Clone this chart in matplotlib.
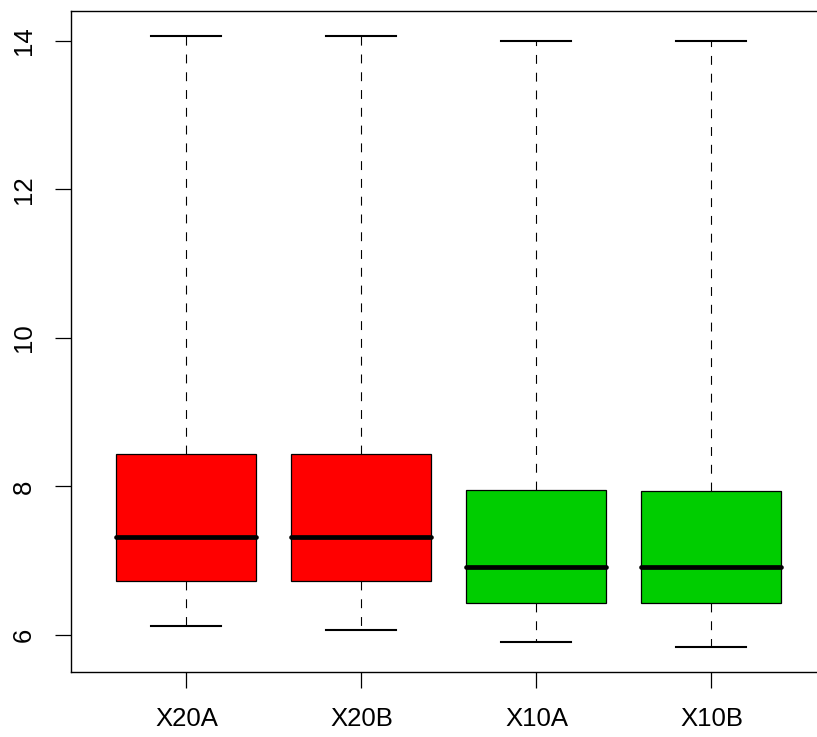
import matplotlib
matplotlib.use('Agg')
import matplotlib.pyplot as plt

plt.rcParams['font.family'] = ['Liberation Sans', 'DejaVu Sans']

# box statistics
labels = ['X20A', 'X20B', 'X10A', 'X10B']
whislo = [6.12, 6.06, 5.90, 5.84]
q1 = [6.73, 6.73, 6.43, 6.43]
med = [7.32, 7.32, 6.92, 6.92]
q3 = [8.44, 8.44, 7.95, 7.94]
whishi = [14.07, 14.07, 14.00, 14.00]
colors = ['#FF0000', '#FF0000', '#00CD00', '#00CD00']

stats = []
for i in range(len(labels)):
    stats.append(dict(label=labels[i], whislo=whislo[i], q1=q1[i], med=med[i],
                      q3=q3[i], whishi=whishi[i], fliers=[]))

fig = plt.figure(figsize=(8.17, 7.37), dpi=100)
# plot region runs past the right edge of the picture
ax = fig.add_axes([71 / 817, 1 - 671.5 / 737, (827 - 71) / 817, (671.5 - 11) / 737])

bp = ax.bxp(stats, positions=[1, 2, 3, 4], widths=0.8, patch_artist=True,
            showfliers=False,
            boxprops=dict(linewidth=0.9, edgecolor='black'),
            medianprops=dict(color='black', linewidth=3.4, solid_capstyle='round'),
            whiskerprops=dict(color='black', linewidth=0.8, linestyle=(0, (8, 8))),
            capprops=dict(color='black', linewidth=1.5),
            capwidths=0.4)
for patch, c in zip(bp['boxes'], colors):
    patch.set_facecolor(c)

ax.set_xlim(0.34, 4.66)
ax.set_ylim(5.508, 14.40)
ax.set_yticks([6, 8, 10, 12, 14])
ax.set_yticklabels(['6', '8', '10', '12', '14'], rotation=90, va='center')

for s in ax.spines.values():
    s.set_linewidth(1.0)
ax.spines['right'].set_visible(False)
ax.tick_params(axis='both', length=11.5, width=0.9, labelsize=18.5, pad=14)

fig.savefig('out.png', dpi=100)
